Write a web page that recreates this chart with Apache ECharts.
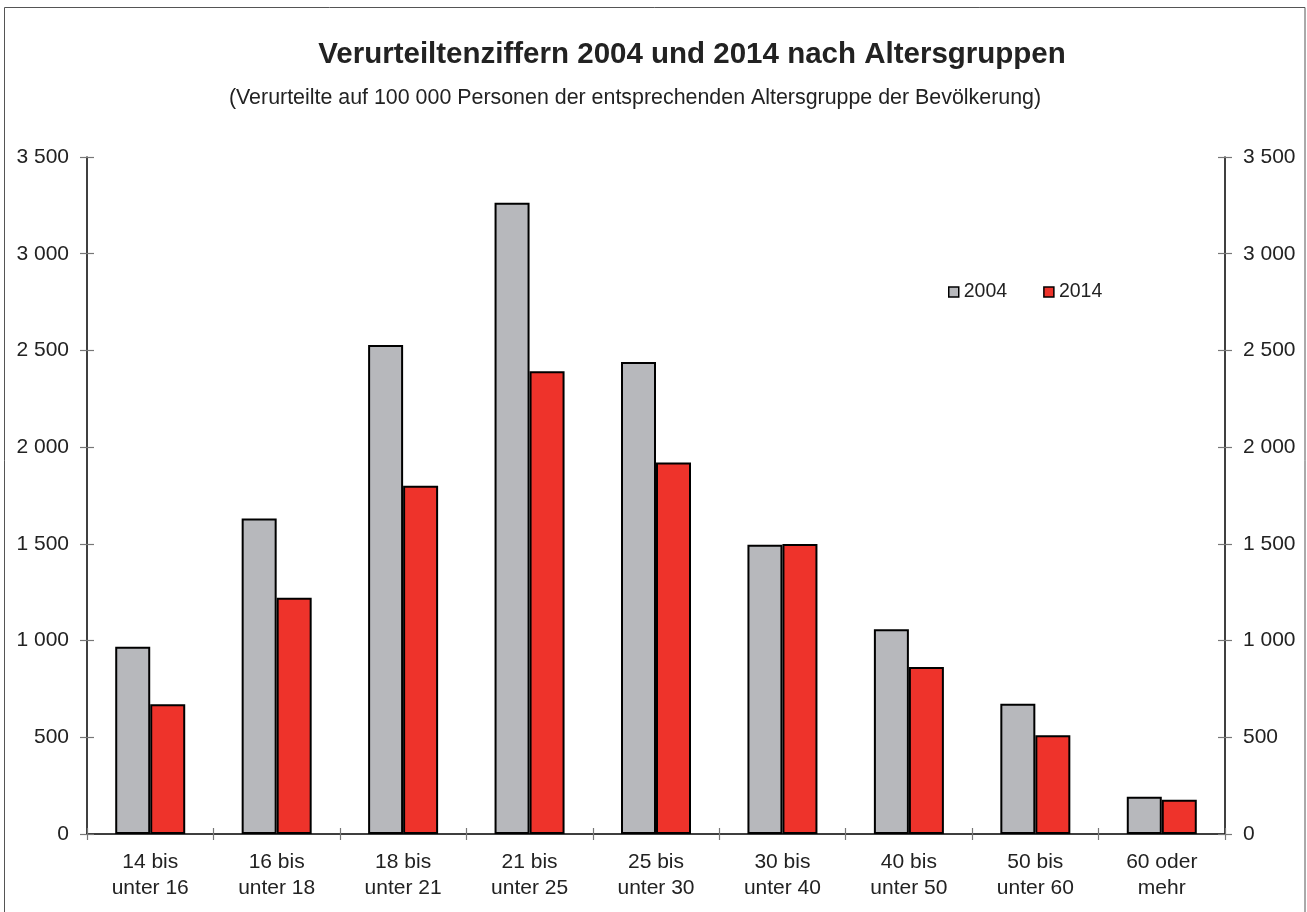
<!DOCTYPE html>
<html>
<head>
<meta charset="utf-8">
<script src="https://cdn.jsdelivr.net/npm/echarts@6/dist/echarts.min.js"></script>
<style>html,body{margin:0;padding:0;background:#fff}#c{width:1307px;height:912px}</style>
</head>
<body>
<div id="c"></div>
<script>
const categories = ["14 bis\nunter 16","16 bis\nunter 18","18 bis\nunter 21","21 bis\nunter 25","25 bis\nunter 30","30 bis\nunter 40","40 bis\nunter 50","50 bis\nunter 60","60 oder\nmehr"];
const values2004 = [968, 1631, 2528, 3264, 2440, 1496, 1059, 673, 192];
const values2014 = [671, 1221, 1800, 2392, 1921, 1499, 864, 511, 177];
const seriesNames = ["2004", "2014"];
const yMin = 0, yMax = 3500, yStep = 500;
const titleText = "Verurteiltenziffern 2004 und 2014 nach Altersgruppen";
const subtitleText = "(Verurteilte auf 100 000 Personen der entsprechenden Altersgruppe der Bevölkerung)";

const FONT = "'Liberation Sans', Arial, sans-serif";
const fmt = v => String(v).replace(/\B(?=(\d{3})+(?!\d))/g, " ");
const chart = echarts.init(document.getElementById('c'), null, {renderer: 'canvas'});
const grid = {left: 87, right: 82, top: 157, bottom: 78};
function yAx(pos, inside, showLabel) {
  return {
    type: 'value', position: pos, min: yMin, max: yMax, interval: yStep,
    axisLine: {show: showLabel, lineStyle: {color: '#000', width: 1.5}},
    axisTick: {show: true, inside: inside, length: 7, lineStyle: {color: '#777', width: 1.2}},
    splitLine: {show: false},
    axisLabel: {show: showLabel, formatter: fmt, color: '#222', fontSize: 21, fontFamily: FONT, margin: 18}
  };
}
function xAx(inside, showLabel) {
  return {
    type: 'category', data: categories, position: 'bottom',
    axisLine: {show: showLabel, lineStyle: {color: '#000', width: 1.5}},
    axisTick: {show: true, inside: inside, length: 6, lineStyle: {color: '#777', width: 1.2}},
    axisLabel: {show: showLabel, color: '#222', fontSize: 21, fontFamily: FONT, lineHeight: 26, margin: 15}
  };
}
chart.setOption({
  animation: false,
  backgroundColor: '#fff',
  textStyle: {fontFamily: FONT},
  title: [
    {text: titleText, left: 687, top: 35, textAlign: 'center',
     textStyle: {fontSize: 29.5, fontWeight: 'bold', color: '#222', fontFamily: FONT}},
    {text: subtitleText, left: 630, top: 83, textAlign: 'center',
     textStyle: {fontSize: 21.4, fontWeight: 'normal', color: '#222', fontFamily: FONT}}
  ],
  legend: {
    data: seriesNames, left: 943, top: 277, itemWidth: 10, itemHeight: 10, itemGap: 36, icon: 'rect',
    textStyle: {fontSize: 19.5, color: '#222', fontFamily: FONT},
    itemStyle: {borderColor: '#000', borderWidth: 1.5}
  },
  grid: grid,
  xAxis: [xAx(false, true), xAx(true, false)],
  yAxis: [yAx('left', false, true), yAx('right', false, true), yAx('left', true, false), yAx('right', true, false)],
  series: [
    {name: seriesNames[0], type: 'bar', data: values2004, barWidth: 35, barGap: '0%',
     itemStyle: {color: '#b7b8bc', borderColor: '#000', borderWidth: 2}},
    {name: seriesNames[1], type: 'bar', data: values2014, barWidth: 35, barGap: '0%',
     itemStyle: {color: '#ee332b', borderColor: '#000', borderWidth: 2}}
  ],
  graphic: [{type: 'rect', shape: {x: 4.5, y: 7.5, width: 1300.5, height: 910}, silent: true, z: 100,
    style: {fill: 'none', stroke: '#555', lineWidth: 1}}]
});
</script>
</body>
</html>
